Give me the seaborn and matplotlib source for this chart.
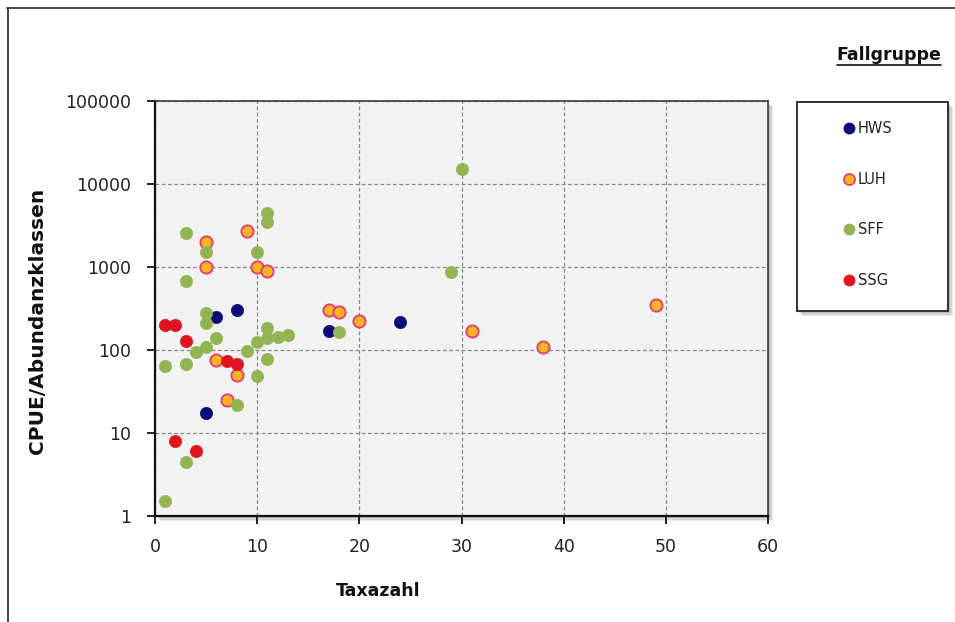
import matplotlib
matplotlib.use("Agg")
import matplotlib.pyplot as plt
import pandas as pd
import seaborn as sns
from matplotlib.lines import Line2D
from matplotlib.patches import Rectangle

# Taxa count vs. CPUE / abundance classes per case group
hws_taxa = [5, 6, 8, 17, 24]
hws_cpue = [17.5, 250, 300, 170, 220]

luh_taxa = [5, 5, 9, 10, 11, 6, 8, 7, 17, 18, 20, 31, 38, 49]
luh_cpue = [2000, 1000, 2700, 1000, 900, 75, 50, 25, 300, 285, 225, 170, 110, 350]

sff_taxa = [3, 5, 3, 11, 11, 10, 5, 5, 6, 5, 4, 1, 3, 9, 10, 11, 11, 10,
            11, 12, 13, 8, 3, 1, 30, 29, 18]
sff_cpue = [2600, 1500, 670, 4500, 3500, 1500, 280, 210, 140, 110, 95, 65, 68,
            97, 125, 185, 77, 48, 140, 145, 150, 22, 4.5, 1.5, 15000, 880, 165]

ssg_taxa = [1, 2, 3, 7, 8, 2, 4]
ssg_cpue = [200, 200, 130, 74, 68, 8, 6]

groups = ["HWS", "LUH", "SFF", "SSG"]
fills = {"HWS": "#0b0b78", "LUH": "#ffb224", "SFF": "#93b452", "SSG": "#e0141e"}
edges = {"HWS": "#0b0b78", "LUH": "#e03a6e", "SFF": "#93b452", "SSG": "#e0141e"}

x_ticks = [0, 10, 20, 30, 40, 50, 60]
y_ticks = [1, 10, 100, 1000, 10000, 100000]
y_ticklabels = ["1", "10", "100", "1000", "10000", "100000"]

df = pd.concat([
    pd.DataFrame({"Taxazahl": hws_taxa, "CPUE": hws_cpue, "Fallgruppe": "HWS"}),
    pd.DataFrame({"Taxazahl": luh_taxa, "CPUE": luh_cpue, "Fallgruppe": "LUH"}),
    pd.DataFrame({"Taxazahl": sff_taxa, "CPUE": sff_cpue, "Fallgruppe": "SFF"}),
    pd.DataFrame({"Taxazahl": ssg_taxa, "CPUE": ssg_cpue, "Fallgruppe": "SSG"}),
], ignore_index=True)

sns.set_theme(style="white")
plt.rcParams["font.family"] = ["DejaVu Sans"]

W, H = 955, 622
fig = plt.figure(figsize=(W / 100, H / 100), dpi=100)
fig.patch.set_facecolor("white")

def fx(px):
    return px / W

def fy(py):
    return 1 - py / H

# outer chart frame (top and left edges)
fig.add_artist(Line2D([fx(7.5), fx(7.5)], [fy(8), fy(H + 5)], color="#3a3a3a", lw=1.3))
fig.add_artist(Line2D([fx(7), fx(W + 5)], [fy(8), fy(8)], color="#3a3a3a", lw=1.3))

# plot area
left, right, top, bottom = 155, 768, 101, 516
ax_rect = [fx(left), fy(bottom), fx(right - left), (bottom - top) / H]

# soft drop shadow behind plot area
for i, a in enumerate([0.12, 0.16, 0.22]):
    off = 5 - i * 1.5
    fig.add_artist(Rectangle((fx(left + off), fy(bottom + off)), fx(right - left), (bottom - top) / H,
                             transform=fig.transFigure, facecolor="#606060", alpha=a,
                             edgecolor="none", zorder=0))

ax = fig.add_axes(ax_rect, zorder=2)
ax.set_facecolor("#f2f2f2")

for g in groups:
    sub = df[df["Fallgruppe"] == g]
    sns.scatterplot(data=sub, x="Taxazahl", y="CPUE", ax=ax, color=fills[g],
                    edgecolor=edges[g], linewidth=1.3 if g == "LUH" else 0.5,
                    s=78, zorder=3, legend=False)

ax.set_yscale("log")
ax.set_xlim(0, 60)
ax.set_ylim(1, 100000)
ax.set_xticks(x_ticks)
ax.set_xticklabels([str(t) for t in x_ticks])
ax.set_yticks(y_ticks)
ax.set_yticklabels(y_ticklabels)
ax.yaxis.set_minor_locator(matplotlib.ticker.NullLocator())

ax.grid(True, which="major", color="#8a8a8a", linestyle=(0, (3, 2)), linewidth=0.9)
ax.set_axisbelow(True)
for sp in ax.spines.values():
    sp.set_visible(True)
    sp.set_color("#3c3c3c")
    sp.set_linewidth(1.2)
ax.spines["left"].set_color("#111111")
ax.spines["bottom"].set_color("#111111")
ax.spines["left"].set_linewidth(1.6)
ax.spines["bottom"].set_linewidth(1.6)

ax.tick_params(axis="y", which="major", direction="out", length=6, width=1.3,
               color="#111111", labelsize=12.5, labelcolor="#222222", pad=11, left=True)
ax.tick_params(axis="x", which="major", direction="out", length=6, width=1.3,
               color="#111111", labelsize=12.5, labelcolor="#222222", pad=10, bottom=True)

ax.set_xlabel("")
ax.set_ylabel("")
fig.text(fx(378), fy(591), "Taxazahl", ha="center", va="center",
         fontsize=12.5, fontweight="bold", color="#111111")
fig.text(fx(37), fy(321), "CPUE/Abundanzklassen", ha="center", va="center", rotation=90,
         fontsize=14.5, fontweight="bold", color="#111111")

# legend box with shadow
lx0, lx1, ly0, ly1 = 797, 948, 102, 311
for i, a in enumerate([0.12, 0.16, 0.22]):
    off = 5 - i * 1.5
    fig.add_artist(Rectangle((fx(lx0 + off), fy(ly1 + off)), fx(lx1 - lx0), (ly1 - ly0) / H,
                             transform=fig.transFigure, facecolor="#606060", alpha=a,
                             edgecolor="none", zorder=0))
fig.add_artist(Rectangle((fx(lx0), fy(ly1)), fx(lx1 - lx0), (ly1 - ly0) / H,
                         transform=fig.transFigure, facecolor="white",
                         edgecolor="#222222", linewidth=1.3, zorder=1))

handles = [Line2D([0], [0], marker="o", linestyle="none", markersize=8,
                  markerfacecolor=fills[g], markeredgecolor=edges[g],
                  markeredgewidth=1.2 if g == "LUH" else 0.5) for g in groups]
leg = fig.legend(handles, groups, loc="upper left",
                 bbox_to_anchor=(fx(842), fy(121)), bbox_transform=fig.transFigure,
                 frameon=False, fontsize=10.5, labelspacing=2.45, handlelength=0.9,
                 handletextpad=0.2, borderpad=0, borderaxespad=0)
leg.set_zorder(5)
for t in leg.get_texts():
    t.set_color("#222222")

# group title, underlined
title = fig.text(fx(889), fy(55), "Fallgruppe", ha="center", va="center",
                 fontsize=12.5, fontweight="bold", color="#111111")
fig.canvas.draw()
bb = title.get_window_extent(renderer=fig.canvas.get_renderer())
fig.add_artist(Line2D([bb.x0 / W, bb.x1 / W], [(bb.y0 - 1) / H, (bb.y0 - 1) / H],
                      color="#111111", lw=1.2))

fig.savefig("out.png", dpi=100)
